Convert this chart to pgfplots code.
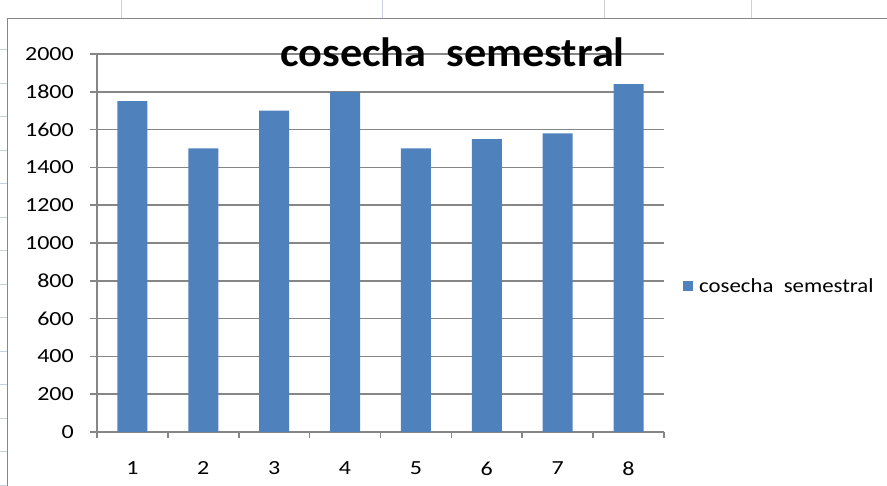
\documentclass[border=0pt]{standalone}
\usepackage{pgfplots}
\pgfplotsset{compat=1.18}
\usepackage{fontspec}
\setmainfont{Carlito}
\definecolor{barblue}{HTML}{4F81BD}
\definecolor{gridgray}{HTML}{868686}
\definecolor{sheet}{HTML}{C8D2E2}
\begin{document}
\begin{tikzpicture}[x=1pt,y=1pt]
\path[use as bounding box] (0,0) rectangle (887,486);
% spreadsheet grid behind the chart
\foreach \xx in {121,382,604,751} \draw[sheet,line width=1pt] (\xx,486) -- (\xx,468);
\foreach \k in {0,...,13} \draw[sheet,line width=1pt] (0,{486-50-33.5*\k}) -- (7,{486-50-33.5*\k});
% chart border
\draw[gridgray,line width=1.6pt] (7.5,0) -- (7.5,467.5) -- (887,467.5);
\begin{axis}[
  at={(97pt,54pt)}, anchor=south west,
  width=567pt, height=378pt, scale only axis,
  xmin=0.5, xmax=8.5, ymin=0, ymax=2000,
  ytick distance=200,
  xtick={1,...,8},
  minor xtick={0.5,1.5,...,8.5},
  axis x line*=bottom, axis y line*=left,
  axis line style={gridgray,line width=1.6pt,-},
  ymajorgrids,
  grid style={gridgray,line width=1.6pt},
  tick align=outside,
  major tick length=7pt, minor tick length=6pt,
  every major x tick/.append style={draw=none},
  tick style={gridgray,line width=1.6pt},
  ticklabel style={font=\fontsize{20}{23}\selectfont, text=black, xscale=1.2},
  /pgf/number format/assume math mode=true,
  /pgf/number format/1000 sep={},
  yticklabel style={xshift=-10pt},
  xticklabel style={yshift=-19pt},
  clip=false,
]
\addplot[ybar, bar width=30pt, fill=barblue, draw=none] coordinates {
  (1,1750) (2,1500) (3,1700) (4,1800) (5,1500) (6,1550) (7,1580) (8,1840)};
\end{axis}
\node[font=\fontsize{41}{48}\bfseries\selectfont, anchor=base, xscale=1.08, inner sep=0pt] at (452.5,419) {cosecha\ \ semestral};
\fill[barblue] (683,195) rectangle (693,205);
\node[font=\fontsize{20}{23}\selectfont, anchor=west, inner sep=0pt, xscale=1.14] at (699,200) {cosecha\ \ semestral};
\end{tikzpicture}
\end{document}
